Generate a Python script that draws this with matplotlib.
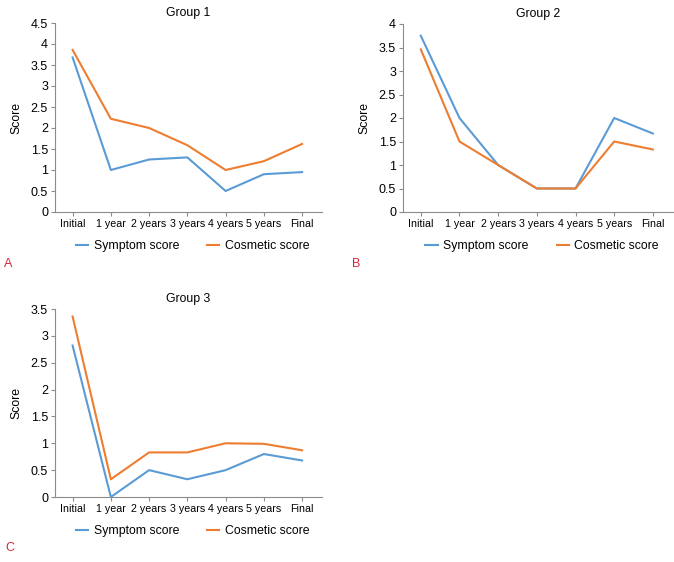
import matplotlib

matplotlib.use("Agg")
import matplotlib.pyplot as plt
import numpy as np

plt.rcParams["font.family"] = ["Liberation Sans", "DejaVu Sans"]

categories = ["Initial", "1 year", "2 years", "3 years", "4 years", "5 years", "Final"]

g1_symptom = [3.68, 1.0, 1.25, 1.3, 0.5, 0.9, 0.95]
g1_cosmetic = [3.86, 2.22, 2.0, 1.59, 1.0, 1.21, 1.62]

g2_symptom = [3.75, 2.0, 1.0, 0.5, 0.5, 2.0, 1.67]
g2_cosmetic = [3.46, 1.5, 1.0, 0.5, 0.5, 1.5, 1.33]

g3_symptom = [2.82, 0.0, 0.5, 0.33, 0.5, 0.8, 0.68]
g3_cosmetic = [3.36, 0.33, 0.83, 0.83, 1.0, 0.99, 0.87]

BLUE = "#5b9bd5"
ORANGE = "#ed7d31"
LETTER = "#d7263d"
SPINE = "#8c8c8c"

W, H = 674, 562
fig = plt.figure(figsize=(W / 100, H / 100), dpi=100)


def px_axes(left, top, right, bottom):
    return fig.add_axes([left / W, 1 - bottom / H, (right - left) / W, (bottom - top) / H])


def draw_panel(ax, title, symptom, cosmetic, ymax):
    x = np.arange(len(categories))
    ax.plot(x, symptom, color=BLUE, lw=1.5, label="Symptom score")
    ax.plot(x, cosmetic, color=ORANGE, lw=1.5, label="Cosmetic score")
    ax.set_xlim(-0.46, 6.52)
    ax.set_ylim(0, ymax)
    ax.set_xticks(x)
    ax.set_xticklabels(categories, fontsize=7.7)
    yt = np.arange(0, ymax + 0.01, 0.5)
    ax.set_yticks(yt)
    ax.set_yticklabels([f"{v:g}" for v in yt], fontsize=9)
    for side in ("top", "right"):
        ax.spines[side].set_visible(False)
    for side in ("left", "bottom"):
        ax.spines[side].set_color(SPINE)
        ax.spines[side].set_linewidth(0.8)
    ax.tick_params(length=3, width=0.8, color=SPINE, pad=2)
    ax.set_title(title, fontsize=8.8, pad=5)
    ax.set_ylabel("Score", fontsize=8.8, labelpad=6)
    ax.legend(loc="center", bbox_to_anchor=(0.515, -0.18), ncol=2, frameon=False,
              fontsize=8.8, handlelength=1.0, handletextpad=0.45, columnspacing=2.3)


ax1 = px_axes(55, 23, 322, 212)
draw_panel(ax1, "Group 1", g1_symptom, g1_cosmetic, 4.5)

ax2 = px_axes(403, 24, 673, 212)
draw_panel(ax2, "Group 2", g2_symptom, g2_cosmetic, 4.0)

ax3 = px_axes(55, 309, 322, 497)
draw_panel(ax3, "Group 3", g3_symptom, g3_cosmetic, 3.5)

fig.text(4 / W, 1 - 264 / H, "A", color=LETTER, fontsize=9, va="center", ha="left")
fig.text(352 / W, 1 - 264 / H, "B", color=LETTER, fontsize=9, va="center", ha="left")
fig.text(5 / W, 1 - 548 / H, "C", color=LETTER, fontsize=9, va="center", ha="left")

fig.savefig("out.png", dpi=100)
